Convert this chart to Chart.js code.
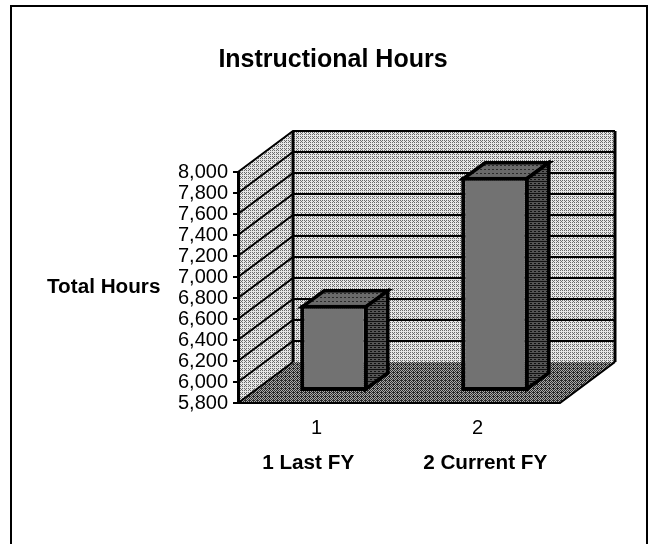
<!DOCTYPE html>
<html>
<head>
<meta charset="utf-8">
<title>Instructional Hours</title>
<style>
  html, body { margin: 0; padding: 0; background: #fff; }
  canvas { display: block; }
</style>
<script src="https://cdn.jsdelivr.net/npm/chart.js@4"></script>
</head>
<body>
<canvas id="chartHours" width="650" height="544"></canvas>
<script>
  const chartTitle = 'Instructional Hours';
  const yAxisTitle = 'Total Hours';
  const categories = ['1', '2'];
  const categoryNames = ['1 Last FY', '2 Current FY'];
  const totalHours = [6630, 7850];
  const yTicks = [5800, 6000, 6200, 6400, 6600, 6800, 7000, 7200, 7400, 7600, 7800, 8000];

  const FONT = '"Liberation Sans", Arial, sans-serif';
  const WALL_DX = 55, WALL_DY = -41;   // depth of the floor and side wall
  const BAR_DX = 22, BAR_DY = -16;     // depth of one bar
  const BAR_SHIFT_X = 15.5, BAR_SHIFT_Y = -11;  // bars stand a bit behind the front edge

  const BAYER = [
    [0, 8, 2, 10],
    [12, 4, 14, 6],
    [3, 11, 1, 9],
    [15, 7, 13, 5]
  ];

  // scanned-looking halftone, share = how many of the 16 cells are dark
  function halftone(ctx, share, light, dark) {
    const tile = document.createElement('canvas');
    tile.width = 4;
    tile.height = 4;
    const t = tile.getContext('2d');
    for (let y = 0; y < 4; y++) {
      for (let x = 0; x < 4; x++) {
        t.fillStyle = BAYER[y][x] < share ? dark : light;
        t.fillRect(x, y, 1, 1);
      }
    }
    return ctx.createPattern(tile, 'repeat');
  }

  function poly(ctx, pts, fill, lineWidth) {
    ctx.beginPath();
    pts.forEach(function (p, i) {
      if (i === 0) ctx.moveTo(p[0], p[1]);
      else ctx.lineTo(p[0], p[1]);
    });
    ctx.closePath();
    if (fill) {
      ctx.fillStyle = fill;
      ctx.fill();
    }
    if (lineWidth) {
      ctx.lineWidth = lineWidth;
      ctx.strokeStyle = '#000';
      ctx.lineJoin = 'miter';
      ctx.stroke();
    }
  }

  const ctx = document.getElementById('chartHours').getContext('2d');
  const wallFill = halftone(ctx, 5, '#e6e6e6', '#6a6a6a');
  const floorFill = halftone(ctx, 9, '#aaa', '#2a2a2a');
  const barFill = halftone(ctx, 8, '#a8a8a8', '#3c3c3c');
  const sideFill = halftone(ctx, 11, '#999', '#111');
  const topFill = halftone(ctx, 9, '#aaa', '#2a2a2a');

  const box3d = {
    id: 'box3d',
    beforeDraw: function (chart) {
      const c = chart.ctx;
      const area = chart.chartArea;
      const y = chart.scales.y;
      const L = area.left, R = area.right, B = area.bottom, T = area.top;

      c.save();
      c.fillStyle = '#fff';
      c.fillRect(0, 0, chart.width, chart.height);

      // page frame, open at the bottom
      c.strokeStyle = '#000';
      c.lineWidth = 2;
      c.beginPath();
      c.moveTo(11, chart.height);
      c.lineTo(11, 6);
      c.lineTo(647, 6);
      c.lineTo(647, chart.height);
      c.stroke();

      // side wall, back wall, floor
      poly(c, [[L, B], [L, T], [L + WALL_DX, T + WALL_DY], [L + WALL_DX, B + WALL_DY]], wallFill);
      poly(c, [[L + WALL_DX, T + WALL_DY], [R + WALL_DX, T + WALL_DY], [R + WALL_DX, B + WALL_DY], [L + WALL_DX, B + WALL_DY]], wallFill);
      poly(c, [[L, B], [L + WALL_DX, B + WALL_DY], [R + WALL_DX, B + WALL_DY], [R, B]], floorFill);

      // grid lines run up the side wall and along the back
      c.strokeStyle = '#000';
      c.lineWidth = 2;
      yTicks.forEach(function (v) {
        const py = y.getPixelForValue(v);
        c.beginPath();
        c.moveTo(L, py);
        c.lineTo(L + WALL_DX, py + WALL_DY);
        if (v > yTicks[0]) c.lineTo(R + WALL_DX, py + WALL_DY);
        c.stroke();
      });

      // heavier edges
      c.lineWidth = 3;
      c.beginPath();
      c.moveTo(L + WALL_DX, B + WALL_DY);
      c.lineTo(L + WALL_DX, T + WALL_DY);
      c.moveTo(R + WALL_DX, T + WALL_DY);
      c.lineTo(R + WALL_DX, B + WALL_DY);
      c.stroke();
      c.lineWidth = 2;
      c.beginPath();
      c.moveTo(L, B);
      c.lineTo(R, B);
      c.lineTo(R + WALL_DX, B + WALL_DY);
      c.stroke();

      c.fillStyle = '#000';
      c.font = 'bold 20.7px ' + FONT;
      c.textAlign = 'left';
      c.textBaseline = 'middle';
      c.fillText(yAxisTitle, 47, 287);
      c.restore();
    },
    beforeDatasetsDraw: function (chart) {
      const c = chart.ctx;
      c.save();
      c.translate(BAR_SHIFT_X, BAR_SHIFT_Y);
      chart.getDatasetMeta(0).data.forEach(function (bar) {
        const x0 = bar.x - bar.width / 2 + 2;
        const x1 = bar.x + bar.width / 2 - 2;
        const top = bar.y + 2;
        const bot = bar.base - 2;
        poly(c, [[x0, top], [x0 + BAR_DX, top + BAR_DY], [x1 + BAR_DX, top + BAR_DY], [x1, top]], topFill, 3.5);
        poly(c, [[x1, top], [x1 + BAR_DX, top + BAR_DY], [x1 + BAR_DX, bot + BAR_DY], [x1, bot]], sideFill, 3.5);
      });
    },
    afterDatasetsDraw: function (chart) {
      chart.ctx.restore();
    }
  };

  new Chart(ctx, {
    type: 'bar',
    data: {
      labels: categories,
      datasets: [{
        label: yAxisTitle,
        data: totalHours,
        base: yTicks[0],
        clip: false,
        backgroundColor: barFill,
        borderColor: '#000',
        borderWidth: 4,
        borderSkipped: false,
        barPercentage: 0.42,
        categoryPercentage: 1
      }]
    },
    plugins: [box3d],
    options: {
      responsive: false,
      animation: false,
      layout: { padding: { left: 16, right: 0, top: 0, bottom: 0 } },
      plugins: {
        legend: { display: false },
        tooltip: { enabled: false },
        title: {
          display: true,
          text: chartTitle,
          color: '#000',
          font: { family: FONT, size: 25, weight: 'bold', lineHeight: 1.2 },
          padding: { top: 45, bottom: 97 }
        }
      },
      scales: {
        x: {
          type: 'category',
          grid: { display: false },
          border: { display: false },
          ticks: { color: '#000', padding: 5, labelOffset: -2, font: { family: FONT, size: 20 }, maxRotation: 0 },
          title: {
            display: true,
            text: '  ' + categoryNames.join('            '),
            color: '#000',
            font: { family: FONT, size: 20.7, weight: 'bold', lineHeight: 1.2 },
            padding: { top: 0, bottom: 68 }
          },
          afterFit: function (scale) { scale.height = 141; }
        },
        y: {
          min: yTicks[0],
          max: yTicks[yTicks.length - 1],
          position: 'left',
          grid: { drawOnChartArea: false, color: '#000', lineWidth: 2, tickLength: 5 },
          border: { color: '#000', width: 3 },
          ticks: { color: '#000', padding: 5, autoSkip: false, font: { family: FONT, size: 20 } },
          afterBuildTicks: function (scale) {
            scale.ticks = yTicks.map(function (v) { return { value: v }; });
          },
          afterFit: function (scale) { scale.width = 222; }
        },
        // empty axis, only keeps room on the right for the back wall
        yRoom: {
          position: 'right',
          min: yTicks[0],
          max: yTicks[yTicks.length - 1],
          grid: { display: false },
          border: { display: false },
          ticks: { display: false },
          afterFit: function (scale) { scale.width = 90; }
        }
      }
    }
  });
</script>
</body>
</html>
